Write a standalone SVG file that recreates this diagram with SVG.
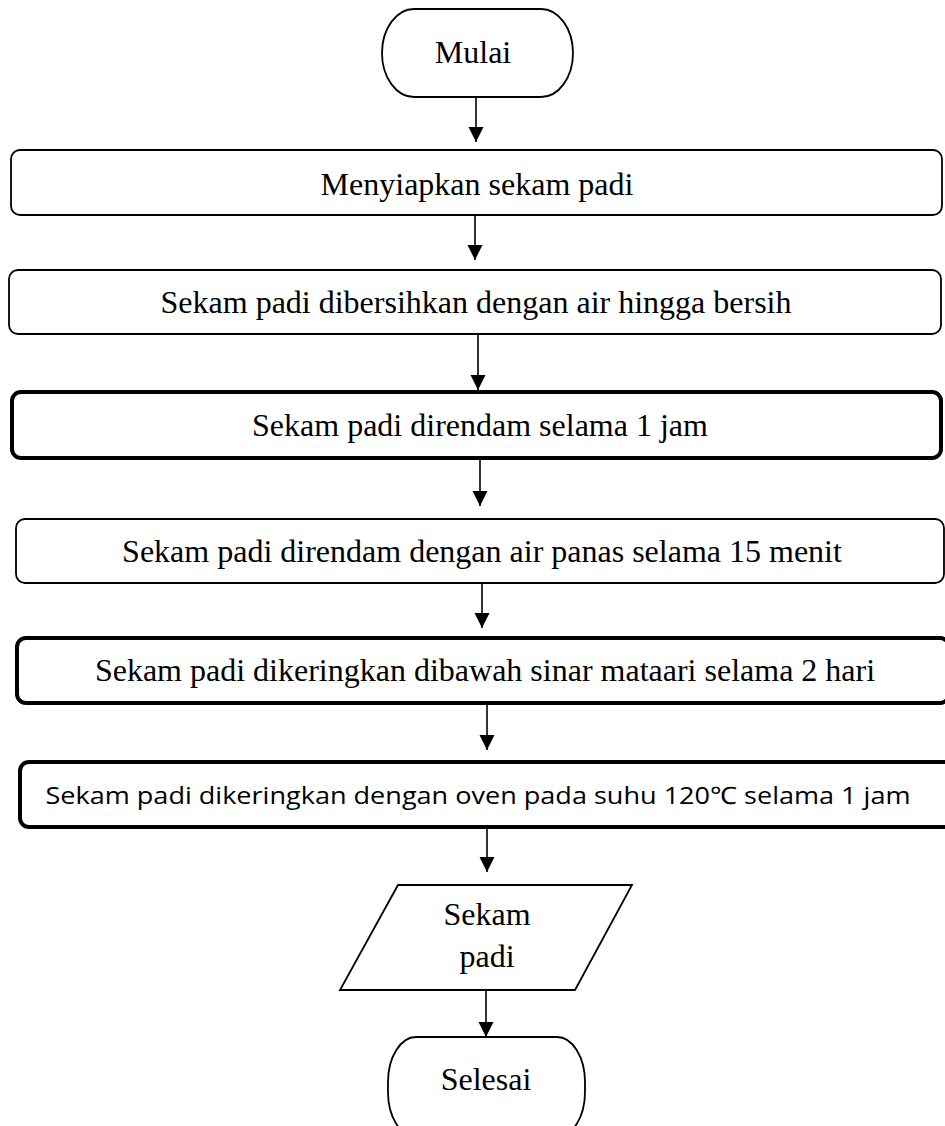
<svg xmlns="http://www.w3.org/2000/svg" width="945" height="1126" viewBox="0 0 945 1126">
<style>
.bg{fill:#fff}
.thin{fill:#fff;stroke:#000;stroke-width:1.8}
.thick{fill:#fff;stroke:#000;stroke-width:4}
.t{font-family:"Liberation Serif","Times New Roman",serif;font-size:32px;fill:#000;text-anchor:middle}
.s{font-family:"Open Sans","Liberation Sans",sans-serif;font-size:24px;fill:#000;text-anchor:middle}
.ln{stroke:#000;stroke-width:1.6;fill:none}
</style>
<defs>
<marker id="ah" markerUnits="userSpaceOnUse" markerWidth="16" markerHeight="16" refX="15" refY="7.5" orient="auto">
<path d="M0,0 L15,7.5 L0,15 z" fill="#000"/>
</marker>
</defs>
<rect class="bg" x="0" y="0" width="945" height="1126"/>
<g id="connectors">
<line class="ln" x1="476" y1="97" x2="476" y2="142" marker-end="url(#ah)"/>
<line class="ln" x1="475" y1="215" x2="475" y2="260" marker-end="url(#ah)"/>
<line class="ln" x1="478" y1="334" x2="478" y2="390" marker-end="url(#ah)"/>
<line class="ln" x1="480" y1="458" x2="480" y2="506" marker-end="url(#ah)"/>
<line class="ln" x1="482" y1="583" x2="482" y2="628" marker-end="url(#ah)"/>
<line class="ln" x1="487" y1="703" x2="487" y2="750" marker-end="url(#ah)"/>
<line class="ln" x1="487" y1="827" x2="487" y2="872" marker-end="url(#ah)"/>
<line class="ln" x1="486" y1="990" x2="486" y2="1037" marker-end="url(#ah)"/>
</g>
<g id="mulai">
<rect class="thin" x="382" y="9" width="191" height="88" rx="32" ry="44"/>
<text class="t" x="473" y="63">Mulai</text>
</g>
<g id="step1">
<rect class="thin" x="11" y="150" width="931" height="65" rx="9"/>
<text class="t" x="477" y="195">Menyiapkan sekam padi</text>
</g>
<g id="step2">
<rect class="thin" x="9" y="270" width="932" height="64" rx="9"/>
<text class="t" x="476" y="313">Sekam padi dibersihkan dengan air hingga bersih</text>
</g>
<g id="step3">
<rect class="thick" x="12" y="392" width="929" height="66" rx="9"/>
<text class="t" x="480" y="436">Sekam padi direndam selama 1 jam</text>
</g>
<g id="step4">
<rect class="thin" x="16" y="519" width="928" height="64" rx="9"/>
<text class="t" x="482" y="562">Sekam padi direndam dengan air panas selama 15 menit</text>
</g>
<g id="step5">
<rect class="thick" x="17" y="638" width="932" height="65" rx="9"/>
<text class="t" x="485" y="681">Sekam padi dikeringkan dibawah sinar mataari selama 2 hari</text>
</g>
<g id="step6">
<rect class="thick" x="20" y="762" width="935" height="65" rx="9"/>
<text class="s" x="478" y="804" textLength="865" lengthAdjust="spacingAndGlyphs">Sekam padi dikeringkan dengan oven pada suhu 120℃ selama 1 jam</text>
</g>
<g id="output">
<polygon class="thin" points="398,885 632,885 575,990 340,990"/>
<text class="t" x="487" y="925">Sekam</text>
<text class="t" x="487" y="967">padi</text>
</g>
<g id="selesai">
<rect class="thin" x="388" y="1037" width="197" height="100" rx="28" ry="45"/>
<text class="t" x="486" y="1090">Selesai</text>
</g>
</svg>
